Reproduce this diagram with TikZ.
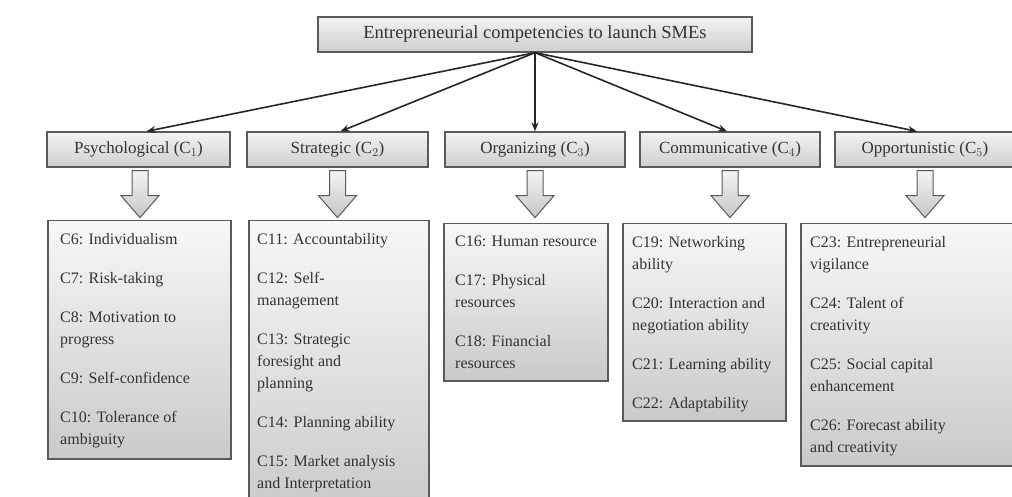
\documentclass[tikz,border=0pt]{standalone}
\usepackage{fontspec}
\setmainfont{Liberation Serif}
\usetikzlibrary{arrows.meta,shadows}
\definecolor{ink}{HTML}{333333}
\definecolor{edge}{HTML}{5A5A5A}
\tikzset{
  headbox/.style={draw=edge, line width=1.3pt, top color=gray!10, bottom color=gray!38,
    minimum height=35, inner sep=0pt, text=ink, font=\fontsize{17}{20}\selectfont},
  itembox/.style={draw=edge, line width=1.5pt, top color=gray!6, bottom color=gray!42,
    anchor=north west, inner sep=0pt,
    drop shadow={opacity=0.35, shadow xshift=1.5pt, shadow yshift=-1.5pt}},
  itemtext/.style={anchor=north west, inner sep=0pt, align=left, text=ink,
    font=\fontsize{16}{22}\selectfont},
  link/.style={draw=black!85, line width=1.6pt, -{Stealth[length=9pt,width=7pt]}},
  blockarrow/.pic={
    \path[draw=edge, line width=1pt, top color=gray!8, bottom color=gray!45]
      (-8,0) -- (8,0) -- (8,25) -- (19,25) -- (0,47) -- (-19,25) -- (-8,25) -- cycle;
  }
}
\begin{document}
\begin{tikzpicture}[x=1pt,y=-1pt]
\useasboundingbox[fill=white] (0,0) rectangle (1012,497);

% root
\node[headbox, minimum width=434, font=\fontsize{18.5}{22}\selectfont] (root) at (535,34.5)
  {Entrepreneurial competencies to launch SMEs};

% five competency groups
\node[headbox, minimum width=183] (c1) at (138.5,149.5) {Psychological (C$_1$)};
\node[headbox, minimum width=181] (c2) at (337.5,149.5) {Strategic (C$_2$)};
\node[headbox, minimum width=180] (c3) at (535,149.5) {Organizing (C$_3$)};
\node[headbox, minimum width=180] (c4) at (730,149.5) {Communicative (C$_4$)};
\node[headbox, minimum width=180] (c5) at (925,149.5) {Opportunistic (C$_5$)};

% links from the root
\draw[link] (root.south) -- ([xshift=8]c1.north);
\draw[link] (root.south) -- ([xshift=3]c2.north);
\draw[link] (root.south) -- (c3.north);
\draw[link] (root.south) -- ([xshift=-3]c4.north);
\draw[link] (root.south) -- ([xshift=-8]c5.north);

% block arrows down to the detail boxes
\path (c1.south) ++(1.5,3) pic {blockarrow};
\path (c2.south) ++(0,3) pic {blockarrow};
\path (c3.south) ++(0,3) pic {blockarrow};
\path (c4.south) ++(0,3) pic {blockarrow};
\path (c5.south) ++(0,3) pic {blockarrow};

% detail boxes
\node[itembox, minimum width=183, minimum height=238] (b1) at (47,220) {};
\node[itembox, minimum width=180, minimum height=295] (b2) at (248,220) {};
\node[itembox, minimum width=164, minimum height=157] (b3) at (443,223) {};
\node[itembox, minimum width=163, minimum height=197] (b4) at (622,223) {};
\node[itembox, minimum width=225, minimum height=242] (b5) at (800,223) {};

\node[itemtext] (t1) at ([xshift=13,yshift=-13]b1.north west) {%
  C6: Individualism\\[17pt]
  C7: Risk-taking\\[17pt]
  C8: Motivation to\\ progress\\[17pt]
  C9: Self-confidence\\[17pt]
  C10: Tolerance of\\ ambiguity};
\node[itemtext] (t2) at ([xshift=9,yshift=-13]b2.north west) {%
  C11: Accountability\\[17pt]
  C12: Self-\\ management\\[17pt]
  C13: Strategic\\ foresight and\\ planning\\[17pt]
  C14: Planning ability\\[17pt]
  C15: Market analysis\\ and Interpretation};
\node[itemtext] (t3) at ([xshift=12,yshift=-13]b3.north west) {%
  C16: Human resource\\[17pt]
  C17: Physical\\ resources\\[17pt]
  C18: Financial\\ resources};
\node[itemtext] (t4) at ([xshift=10,yshift=-13]b4.north west) {%
  C19: Networking\\ ability\\[17pt]
  C20: Interaction and\\ negotiation ability\\[17pt]
  C21: Learning ability\\[17pt]
  C22: Adaptability};
\node[itemtext] (t5) at ([xshift=10,yshift=-13]b5.north west) {%
  C23: Entrepreneurial\\ vigilance\\[17pt]
  C24: Talent of\\ creativity\\[17pt]
  C25: Social capital\\ enhancement\\[17pt]
  C26: Forecast ability\\ and creativity};
\end{tikzpicture}
\end{document}
